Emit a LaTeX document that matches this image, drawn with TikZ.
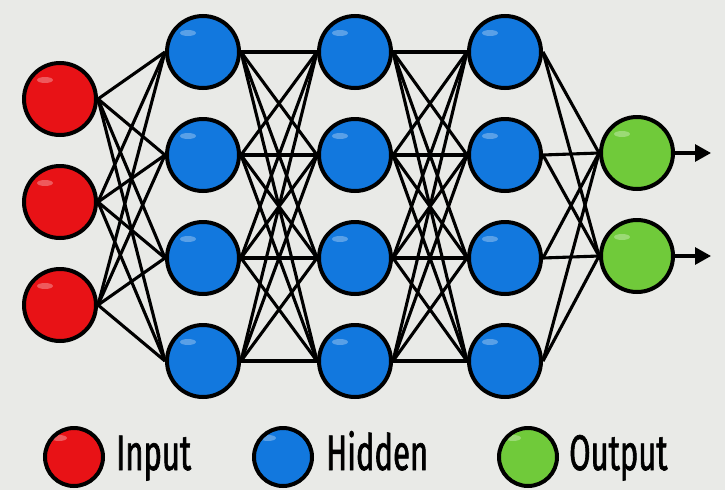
\documentclass[tikz,border=0pt]{standalone}
\usepackage{fontspec}
\usetikzlibrary{arrows.meta}
\newfontfamily\legendfont[FakeStretch=0.62, FakeBold=1.2]{Fira Sans}
\definecolor{paper}{RGB}{233,234,231}
\definecolor{inred}{RGB}{232,18,22}
\definecolor{hidblue}{RGB}{18,120,222}
\definecolor{outgreen}{RGB}{112,202,58}
\tikzstyle{neuron} = [circle, minimum size=72pt, inner sep=0pt, draw=black, line width=4pt,
  path picture={\fill[white, opacity=0.3, rotate=40] ([xshift=-15pt,yshift=19pt]path picture bounding box.center) ellipse (8pt and 3pt);}]
\tikzstyle{innode} = [neuron, fill=inred]
\tikzstyle{hidnode} = [neuron, fill=hidblue]
\tikzstyle{outnode} = [neuron, fill=outgreen]
\tikzstyle{keynode} = [neuron, minimum size=58pt]
\tikzstyle{keytext} = [font=\legendfont\fontsize{50}{50}\selectfont, anchor=base west, inner sep=0pt]
\tikzstyle{wire} = [line width=3.1pt, draw=black]
\tikzstyle{arrow} = [line width=3.1pt, -{Triangle[length=16pt,width=17pt]}]

\begin{document}
\begin{tikzpicture}[x=1pt, y=-1pt, node distance=103pt]
\fill[paper] (0,0) rectangle (725,490);
\useasboundingbox (0,0) rectangle (725,490);

% input layer
\node (in1) [innode] at (60,99) {};
\node (in2) [innode, below of=in1] {};
\node (in3) [innode, below of=in2] {};

% hidden layers
\node (h11) [hidnode] at (203,52) {};
\node (h12) [hidnode, below of=h11] {};
\node (h13) [hidnode, below of=h12] {};
\node (h14) [hidnode, below of=h13] {};

\node (h21) [hidnode, right of=h11, xshift=49pt] {};
\node (h22) [hidnode, below of=h21] {};
\node (h23) [hidnode, below of=h22] {};
\node (h24) [hidnode, below of=h23] {};

\node (h31) [hidnode, right of=h21, xshift=47pt] {};
\node (h32) [hidnode, below of=h31] {};
\node (h33) [hidnode, below of=h32] {};
\node (h34) [hidnode, below of=h33] {};

% output layer
\node (o1) [outnode] at (637,153) {};
\node (o2) [outnode, below of=o1] {};
\coordinate (end1) at (711,153);
\coordinate (end2) at (711,256);

% weights
\foreach \i in {1,2,3}
  \foreach \j in {1,...,4}
    \draw [wire] (in\i.east) -- (h1\j.west);
\foreach \i in {1,...,4}
  \foreach \j in {1,...,4} {
    \draw [wire] (h1\i.east) -- (h2\j.west);
    \draw [wire] (h2\i.east) -- (h3\j.west);
  }
\foreach \i in {1,...,4}
  \foreach \j in {1,2}
    \draw [wire] (h3\i.east) -- (o\j.west);

\draw [arrow] (o1.east) -- (end1);
\draw [arrow] (o2.east) -- (end2);

% legend
\node (kin) [keynode, fill=inred] at (74,457) {};
\node (tin) [keytext] at (116,470) {Input};
\node (khid) [keynode, fill=hidblue] at (283,457) {};
\node (thid) [keytext] at (326,470) {Hidden};
\node (kout) [keynode, fill=outgreen] at (528,457) {};
\node (tout) [keytext] at (569,470) {Output};
\end{tikzpicture}
\end{document}
